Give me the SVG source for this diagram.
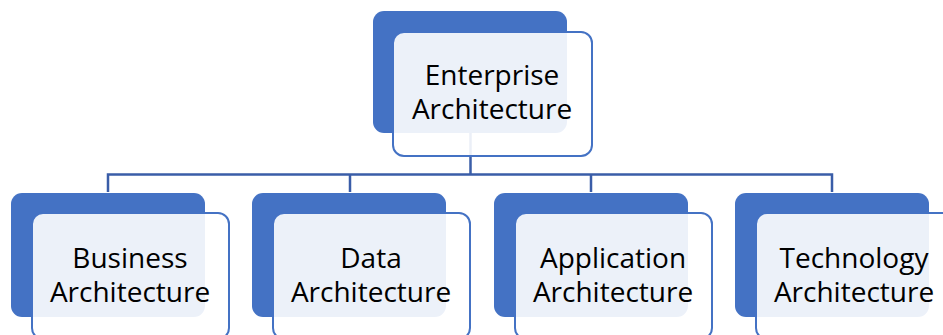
<svg xmlns="http://www.w3.org/2000/svg" width="943" height="335" viewBox="0 0 943 335">
<style>
.back{fill:#4472C4;}
.front{fill:#FFFFFF;fill-opacity:0.9;stroke:#4472C4;stroke-width:2;}
.conn{fill:none;stroke:#3A5DA8;stroke-width:2.5;}
text{font-family:"Open Sans","Liberation Sans",Arial,sans-serif;font-size:28px;fill:#000;text-anchor:middle;}
</style>
<rect width="943" height="335" fill="#FFFFFF"/>
<g id="connectors">
<path class="conn" d="M470.5,133 V174.5 M108,192 V174.5 H832 V192 M350,174.5 V192 M591,174.5 V192"/>
</g>
<g id="enterprise">
<rect class="back" x="373" y="11" width="194" height="122" rx="11"/>
<rect class="front" x="393" y="32" width="199" height="124" rx="11"/>
<text x="492" y="85">Enterprise<tspan x="492" dy="34">Architecture</tspan></text>
</g>
<g id="business">
<rect class="back" x="11" y="193" width="194" height="124" rx="11"/>
<rect class="front" x="32" y="213" width="197" height="126" rx="11"/>
<text x="130" y="268">Business<tspan x="130" dy="34">Architecture</tspan></text>
</g>
<g id="data">
<rect class="back" x="252" y="193" width="194" height="124" rx="11"/>
<rect class="front" x="273" y="213" width="197" height="126" rx="11"/>
<text x="371" y="268">Data<tspan x="371" dy="34">Architecture</tspan></text>
</g>
<g id="application">
<rect class="back" x="494" y="193" width="194" height="124" rx="11"/>
<rect class="front" x="515" y="213" width="197" height="126" rx="11"/>
<text x="613" y="268">Application<tspan x="613" dy="34">Architecture</tspan></text>
</g>
<g id="technology">
<rect class="back" x="735" y="193" width="194" height="124" rx="11"/>
<rect class="front" x="756" y="213" width="197" height="126" rx="11"/>
<text x="854" y="268">Technology<tspan x="854" dy="34">Architecture</tspan></text>
</g>
</svg>
